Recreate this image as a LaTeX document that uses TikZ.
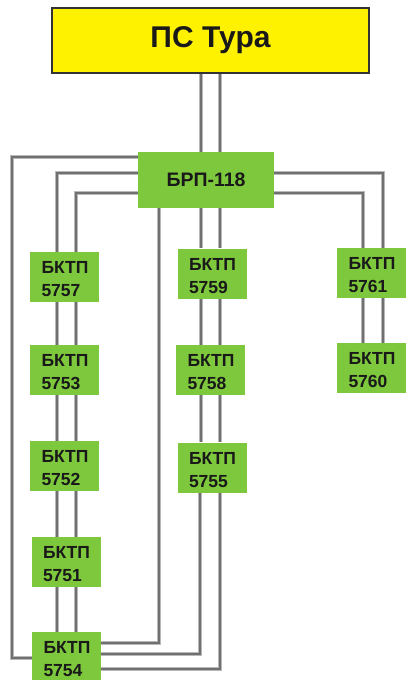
\documentclass[tikz,border=0pt]{standalone}
\usepackage{fontspec}
\setmainfont{Liberation Sans}
\definecolor{boxyellow}{HTML}{FFF200}
\definecolor{boxgreen}{HTML}{7DC83C}
\definecolor{wirecore}{HTML}{707070}
\definecolor{wireedge}{HTML}{B8B8B8}
\tikzset{
  wire/.style={draw=wirecore, line width=2pt, line join=miter,
    preaction={draw=wireedge, line width=3.6pt}},
  gbox/.style={fill=boxgreen, draw=none, minimum width=69pt, minimum height=50pt,
    text width=46pt, inner xsep=11.5pt, inner ysep=0pt, align=left,
    font=\bfseries\fontsize{17.5}{23}\selectfont, text=black!90,
    execute at begin node={\rule{0pt}{16.5pt}}},
}
\begin{document}
\begin{tikzpicture}[x=1pt,y=-1pt]
\useasboundingbox (0,0) rectangle (405,680);
\node[fill=boxyellow, draw=black!80, line width=1.3pt, minimum width=317pt, minimum height=65pt,
  font=\bfseries\fontsize{30}{32}\selectfont, text=black!90] (ps) at (210.5,40.5) {ПС Тура};
\node[fill=boxgreen, minimum width=136pt, minimum height=56pt,
  font=\bfseries\fontsize{19.5}{21}\selectfont, text=black!90] (brp) at (206,180) {БРП-118};

\node[gbox] (k5757) at (64.5,277) {БКТП\\5757};
\node[gbox] (k5753) at (64.5,370) {БКТП\\5753};
\node[gbox] (k5752) at (64.5,466) {БКТП\\5752};
\node[gbox] (k5751) at (66,562) {БКТП\\5751};
\node[gbox] (k5754) at (66.5,657) {БКТП\\5754};
\node[gbox] (k5759) at (212,273.5) {БКТП\\5759};
\node[gbox] (k5758) at (210.5,370) {БКТП\\5758};
\node[gbox] (k5755) at (212,467.5) {БКТП\\5755};
\node[gbox] (k5761) at (371.5,273) {БКТП\\5761};
\node[gbox] (k5760) at (371.5,368) {БКТП\\5760};

% PS to BRP
\draw[wire] (ps.south -| 201,0) -- (brp.north -| 201,0);
\draw[wire] (ps.south -| 220,0) -- (brp.north -| 220,0);

% outer left loop to 5754
\draw[wire] (brp.west |- 0,157) -| (12,658) -- (k5754.west |- 0,658);

% left column lines
\draw[wire] (brp.west |- 0,173) -| (k5757.north -| 57,0);
\draw[wire] (brp.west |- 0,193) -| (k5757.north -| 76,0);
\foreach \a/\b in {k5757/k5753,k5753/k5752,k5752/k5751,k5751/k5754}{
  \draw[wire] (\a.south -| 57,0) -- (\b.north -| 57,0);
  \draw[wire] (\a.south -| 76,0) -- (\b.north -| 76,0);
}

% brp bottom x159 to 5754
\draw[wire] (brp.south -| 159,0) |- (k5754.east |- 0,643);

% middle column
\draw[wire] (brp.south -| 201,0) -- (k5759.north -| 201,0);
\draw[wire] (brp.south -| 220,0) -- (k5759.north -| 220,0);
\foreach \a/\b in {k5759/k5758,k5758/k5755}{
  \draw[wire] (\a.south -| 201,0) -- (\b.north -| 201,0);
  \draw[wire] (\a.south -| 220,0) -- (\b.north -| 220,0);
}
\draw[wire] (k5755.south -| 200,0) |- (k5754.east |- 0,654);
\draw[wire] (k5755.south -| 220,0) |- (k5754.east |- 0,669);

% right column
\draw[wire] (brp.east |- 0,173) -| (k5761.north -| 383,0);
\draw[wire] (brp.east |- 0,193) -| (k5761.north -| 363,0);
\draw[wire] (k5761.south -| 383,0) -- (k5760.north -| 383,0);
\draw[wire] (k5761.south -| 363,0) -- (k5760.north -| 363,0);
\end{tikzpicture}
\end{document}
